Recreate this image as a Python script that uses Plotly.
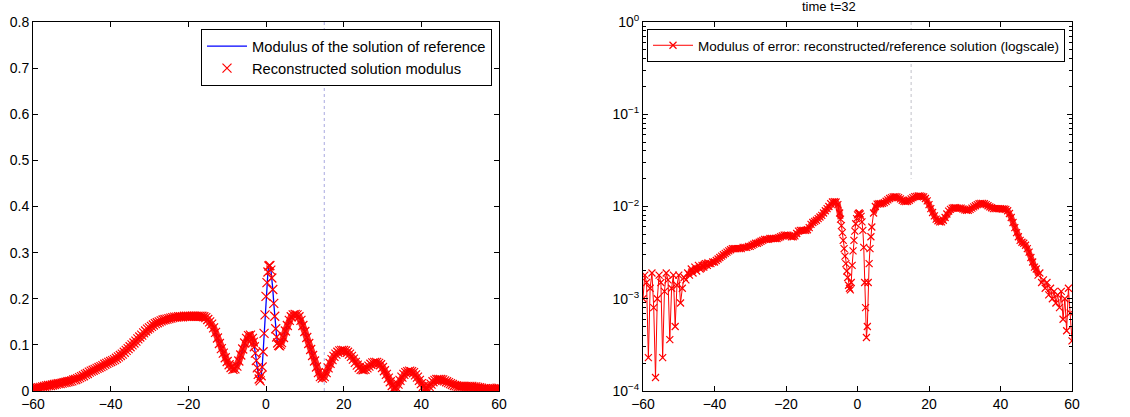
import numpy as np
import plotly.graph_objects as go

# ---------------- data ----------------
x_grid = np.linspace(-60, 60, 241)  # main spatial grid, step 0.5

# Modulus of the solution of reference (blue line) on x_grid
ref_mod = [
    .005, .006, .007, .007, .008, .009, .010, .011, .012, .012,
    .013, .014, .015, .016, .016, .017, .018, .019, .020, .021,
    .022, .024, .025, .027, .029, .031, .033, .036, .038, .041,
    .043, .045, .047, .049, .051, .053, .055, .058, .060, .062,
    .064, .066, .068, .071, .074, .077, .080, .084, .088, .092,
    .096, .100, .104, .108, .113, .117, .121, .126, .130, .134,
    .137, .140, .143, .146, .148, .150, .152, .154, .155, .156,
    .157, .158, .159, .160, .160, .161, .161, .161, .162, .162,
    .162, .162, .162, .162, .162, .162, .162, .162, .161, .159,
    .155, .150, .145, .137, .127, .115, .103, .092, .082, .072,
    .064, .057, .051, .047, .048, .054, .065, .078, .091, .104,
    .114, .120, .121, .114, .096, .066, .036, .020, .050, .122,
    .203, .258, .274, .247, .190, .135, .104, .098, .105, .116,
    .130, .142, .153, .161, .165, .166, .165, .161, .153, .142,
    .129, .116, .103, .090, .077, .065, .052, .040, .031, .028,
    .031, .040, .050, .060, .068, .075, .080, .084, .087, .088,
    .088, .087, .084, .080, .075, .069, .062, .056, .051, .047,
    .046, .047, .050, .054, .058, .062, .064, .066, .064, .058,
    .051, .044, .036, .028, .020, .012, .007, .008, .015, .023,
    .030, .036, .040, .042, .043, .042, .040, .035, .030, .023,
    .016, .010, .006, .006, .010, .015, .020, .023, .025, .025,
    .025, .024, .022, .020, .018, .016, .014, .012, .011, .010,
    .010, .010, .010, .010, .010, .010, .010, .009, .009, .008,
    .007, .006, .005, .005, .004, .004, .004, .005, .005, .006,
    .006,
]

# Reconstructed solution modulus (red crosses) on x_grid
rec_mod = [
    .005, .006, .007, .007, .008, .009, .010, .011, .012, .012,
    .013, .014, .015, .016, .016, .017, .018, .019, .020, .021,
    .022, .024, .025, .027, .029, .031, .033, .036, .038, .041,
    .043, .045, .047, .049, .051, .053, .055, .058, .060, .062,
    .064, .066, .068, .071, .074, .077, .080, .084, .088, .092,
    .096, .100, .104, .108, .113, .117, .121, .126, .130, .134,
    .137, .140, .143, .146, .148, .150, .152, .154, .155, .156,
    .157, .158, .159, .160, .160, .161, .161, .161, .162, .162,
    .162, .162, .162, .162, .162, .162, .162, .162, .161, .159,
    .155, .150, .145, .137, .127, .115, .103, .092, .082, .072,
    .064, .057, .051, .047, .048, .054, .065, .078, .091, .104,
    .114, .120, .121, .114, .096, .066, .036, .022, .052, .125,
    .205, .258, .272, .245, .190, .135, .104, .098, .105, .116,
    .130, .142, .153, .161, .165, .166, .165, .161, .153, .142,
    .129, .116, .103, .090, .077, .065, .052, .040, .031, .028,
    .031, .040, .050, .060, .068, .075, .080, .084, .087, .088,
    .088, .087, .084, .080, .075, .069, .062, .056, .051, .047,
    .046, .047, .050, .054, .058, .061, .062, .062, .060, .057,
    .051, .044, .036, .028, .020, .012, .007, .008, .015, .023,
    .030, .036, .040, .042, .043, .042, .040, .035, .030, .023,
    .016, .010, .006, .006, .010, .015, .020, .023, .025, .025,
    .025, .024, .022, .020, .018, .016, .014, .012, .011, .010,
    .010, .010, .010, .010, .010, .010, .010, .009, .009, .008,
    .007, .006, .005, .005, .004, .004, .004, .005, .005, .006,
    .006,
]

# extra samples in the oscillating centre (quarter points)
x_centre = [-3.25, -2.75, -2.25, -1.75, -1.25, -0.75, -0.25, 0.25,
            0.75, 1.25, 1.75, 2.25, 2.75, 3.25, 3.75]
ref_centre = [.106, .082, .050, .024, .031, .083, .163, .233,
              .273, .264, .221, .162, .117, .099, .101]
rec_centre = [.106, .082, .050, .026, .033, .085, .165, .235,
              .271, .262, .220, .162, .117, .099, .101]

# Modulus of error (log scale) on x_grid
err_mod = [
    1.0e-3, 1.8e-3, 1.5e-3, 2.3e-4, 1.3e-3, 1.9e-3, 8e-4, 1.4e-4, 1.0e-3, 1.8e-3,
    1.5e-3, 2.3e-4, 1.2e-3, 1.9e-3, 1.6e-3, 3.6e-4, 1.3e-3, 1.8e-3, 5.0e-4, 1.4e-3,
    1.8e-3, 9e-4, 1.3e-3, 1.7e-3, 1.6e-3, 1.9e-3, 1.8e-3, 2.1e-3, 1.9e-3, 2.2e-3,
    2.0e-3, 2.3e-3, 2.1e-3, 2.3e-3, 2.2e-3, 2.4e-3, 2.3e-3, 2.4e-3, 2.4e-3, 2.5e-3,
    2.5e-3, 2.6e-3, 2.7e-3, 2.8e-3, 2.9e-3, 3.0e-3, 3.1e-3, 3.2e-3, 3.3e-3, 3.4e-3,
    3.5e-3, 3.5e-3, 3.5e-3, 3.5e-3, 3.5e-3, 3.5e-3, 3.6e-3, 3.6e-3, 3.6e-3, 3.7e-3,
    3.7e-3, 3.8e-3, 3.9e-3, 4.0e-3, 4.0e-3, 4.1e-3, 4.2e-3, 4.3e-3, 4.4e-3, 4.4e-3,
    4.4e-3, 4.5e-3, 4.5e-3, 4.5e-3, 4.5e-3, 4.5e-3, 4.6e-3, 4.7e-3, 4.8e-3, 4.9e-3,
    4.9e-3, 4.9e-3, 4.8e-3, 4.7e-3, 4.7e-3, 4.8e-3, 5.1e-3, 5.4e-3, 5.5e-3, 5.5e-3,
    5.5e-3, 5.5e-3, 5.6e-3, 5.9e-3, 6.4e-3, 6.7e-3, 6.9e-3, 7.1e-3, 7.4e-3, 7.7e-3,
    8.0e-3, 8.5e-3, 9.0e-3, 9.5e-3, 1.0e-2, 1.07e-2, 1.12e-2, 1.13e-2, 1.12e-2, 1.05e-2,
    8.5e-3, 6.2e-3, 4.3e-3, 2.9e-3, 2.0e-3, 1.4e-3, 1.25e-3, 2.3e-3, 4.3e-3, 6.5e-3,
    8.1e-3, 8.5e-3, 7.8e-3, 5.5e-3, 1.5e-3, 3.8e-4, 1.5e-3, 3.5e-3, 6.0e-3, 8.5e-3,
    1.0e-2, 1.06e-2, 1.07e-2, 1.07e-2, 1.08e-2, 1.10e-2, 1.14e-2, 1.18e-2, 1.22e-2, 1.25e-2,
    1.27e-2, 1.28e-2, 1.27e-2, 1.25e-2, 1.21e-2, 1.17e-2, 1.14e-2, 1.13e-2, 1.14e-2, 1.17e-2,
    1.21e-2, 1.25e-2, 1.28e-2, 1.29e-2, 1.30e-2, 1.30e-2, 1.29e-2, 1.27e-2, 1.22e-2, 1.15e-2,
    1.05e-2, 9.5e-3, 8.6e-3, 7.9e-3, 7.3e-3, 7.0e-3, 6.8e-3, 6.8e-3, 7.1e-3, 7.6e-3,
    8.3e-3, 8.9e-3, 9.3e-3, 9.6e-3, 9.7e-3, 9.7e-3, 9.6e-3, 9.6e-3, 9.6e-3, 9.4e-3,
    9.2e-3, 9.1e-3, 9.1e-3, 9.3e-3, 9.6e-3, 9.9e-3, 1.02e-2, 1.05e-2, 1.07e-2, 1.08e-2,
    1.08e-2, 1.07e-2, 1.05e-2, 1.02e-2, 9.9e-3, 9.7e-3, 9.5e-3, 9.5e-3, 9.5e-3, 9.5e-3,
    9.5e-3, 9.4e-3, 9.4e-3, 9.3e-3, 9.0e-3, 8.4e-3, 7.6e-3, 6.7e-3, 5.9e-3, 5.2e-3,
    4.7e-3, 4.3e-3, 4.1e-3, 4.0e-3, 3.8e-3, 3.5e-3, 3.2e-3, 2.8e-3, 2.5e-3, 2.2e-3,
    2.1e-3, 1.8e-3, 1.9e-3, 1.5e-3, 1.6e-3, 1.3e-3, 1.5e-3, 1.1e-3, 1.3e-3, 1.0e-3,
    1.2e-3, 9e-4, 1.1e-3, 8e-4, 1.2e-3, 6e-4, 1.0e-3, 4.5e-4, 1.3e-3, 7e-4,
    3.5e-4,
]

# extra error samples around the two central dips (quarter points)
x_err_centre = [-4.75, -4.25, -3.75, -3.25, -2.75, -2.25, -1.75, -1.25, -0.75,
                -0.25, 0.25, 0.75, 1.25, 1.75, 2.25, 2.75, 3.25, 3.75]
err_centre = [7.3e-3, 5.2e-3, 3.5e-3, 2.4e-3, 1.7e-3, 1.3e-3, 1.5e-3, 3.3e-3, 5.4e-3,
              7.4e-3, 8.4e-3, 8.3e-3, 6.8e-3, 3.6e-3, 8e-4, 5e-4, 2.4e-3, 4.7e-3]

# dotted probe line (position of the vertical marker)
probe_x = 15.0
probe_left_y = [0.0, 0.8]
probe_right_y = [1.0, 0.02]

x_ticks = [-60, -40, -20, 0, 20, 40, 60]
y_ticks_left = [0, 0.1, 0.2, 0.3, 0.4, 0.5, 0.6, 0.7, 0.8]
y_ticks_right = [1e-4, 1e-3, 1e-2, 1e-1, 1e0]
y_tick_text_right = ["10<sup>\u22124</sup>", "10<sup>\u22123</sup>", "10<sup>\u22122</sup>",
                     "10<sup>\u22121</sup>", "10<sup>0</sup>"]
title_right = "time t=32"

assert len(ref_mod) == len(x_grid) == len(rec_mod) == len(err_mod)
assert len(x_centre) == len(ref_centre) == len(rec_centre)
assert len(x_err_centre) == len(err_centre)

# ---------------- style constants ----------------
W, H = 1130, 417
FONT = "Liberation Sans, Arial, Helvetica, sans-serif"
# x-intervals where the dense marker band is thinned out (markers only)
left_band_gap = (-3.0, 3.6)
right_band_span = (-47.5, 50.5)
right_band_gap = (-4.6, 4.1)


def merge(xa, ya, xb, yb):
    xs = np.concatenate([np.asarray(xa, float), np.asarray(xb, float)])
    ys = np.concatenate([np.asarray(ya, float), np.asarray(yb, float)])
    order = np.argsort(xs, kind="stable")
    return xs[order], ys[order]


x_l, ref_l = merge(x_grid, ref_mod, x_centre, ref_centre)
_, rec_l = merge(x_grid, rec_mod, x_centre, rec_centre)
x_r, err_r = merge(x_grid, err_mod, x_err_centre, err_centre)

left_band = np.where((x_l > left_band_gap[0]) & (x_l < left_band_gap[1]), np.nan, rec_l)
right_mask = (x_r >= right_band_span[0]) & (x_r <= right_band_span[1]) & \
             ~((x_r > right_band_gap[0]) & (x_r < right_band_gap[1]))
right_band = np.where(right_mask, err_r, np.nan)


def dom_x(a, b):
    return [a / W, b / W]


def dom_y(top, bottom):
    return [1 - bottom / H, 1 - top / H]


fig = go.Figure()

fig.add_trace(go.Scatter(x=[probe_x, probe_x], y=probe_left_y, mode="lines",
                         line=dict(color="#a8a8e0", width=1, dash="dot"),
                         showlegend=False, hoverinfo="skip", xaxis="x", yaxis="y"))
fig.add_trace(go.Scatter(x=x_l, y=ref_l, mode="lines",
                         line=dict(color="blue", width=1.3),
                         name="Modulus of the solution of reference",
                         legend="legend", xaxis="x", yaxis="y"))
fig.add_trace(go.Scatter(x=x_l, y=left_band, mode="lines",
                         line=dict(color="rgba(255,0,0,0.85)", width=7),
                         showlegend=False, hoverinfo="skip", xaxis="x", yaxis="y"))
fig.add_trace(go.Scatter(x=x_l, y=rec_l, mode="markers",
                         marker=dict(symbol="x-thin", size=9, color="red",
                                     line=dict(color="red", width=1.2)),
                         name="Reconstructed solution modulus",
                         legend="legend", xaxis="x", yaxis="y"))

fig.add_trace(go.Scatter(x=[probe_x, probe_x], y=probe_right_y, mode="lines",
                         line=dict(color="#c0c0c8", width=1, dash="dot"),
                         showlegend=False, hoverinfo="skip", xaxis="x2", yaxis="y2"))
fig.add_trace(go.Scatter(x=x_r, y=right_band, mode="lines",
                         line=dict(color="rgba(255,0,0,0.85)", width=6),
                         showlegend=False, hoverinfo="skip", xaxis="x2", yaxis="y2"))
fig.add_trace(go.Scatter(x=x_r, y=err_r, mode="lines+markers",
                         line=dict(color="red", width=1),
                         marker=dict(symbol="x-thin", size=7, color="red",
                                     line=dict(color="red", width=1.2)),
                         name="Modulus of error: reconstructed/reference solution (logscale)",
                         legend="legend2", xaxis="x2", yaxis="y2"))

axis_common = dict(showline=True, linecolor="black", linewidth=1, mirror="ticks",
                   ticks="inside", ticklen=5, tickcolor="black", showgrid=False,
                   zeroline=False, automargin=False,
                   tickfont=dict(family=FONT, size=14, color="black"))

fig.update_layout(
    width=W, height=H,
    margin=dict(l=0, r=0, t=0, b=0, autoexpand=False),
    paper_bgcolor="white", plot_bgcolor="white",
    font=dict(family=FONT, size=14, color="black"),
    xaxis=dict(domain=dom_x(33, 499), range=[-60, 60], tickvals=x_ticks, anchor="y",
               **axis_common),
    yaxis=dict(domain=dom_y(22, 391), range=[0, 0.8], tickvals=y_ticks_left, anchor="x",
               **axis_common),
    xaxis2=dict(domain=dom_x(643, 1072), range=[-60, 60], tickvals=x_ticks, anchor="y2",
                **axis_common),
    yaxis2=dict(domain=dom_y(22, 391), type="log", range=[-4, 0], anchor="x2",
                tickvals=y_ticks_right, ticktext=y_tick_text_right,
                minor=dict(ticks="inside", ticklen=3, tickcolor="black",
                           tickvals=[m * 10.0 ** e for e in range(-4, 0) for m in range(2, 10)]),
                **axis_common),
    legend=dict(x=492 / W, y=1 - 29 / H, xanchor="right", yanchor="top",
                bgcolor="white", bordercolor="black", borderwidth=1,
                font=dict(family=FONT, size=14.7, color="black"),
                tracegroupgap=0, itemwidth=40),
    legend2=dict(x=1065 / W, y=1 - 29 / H, xanchor="right", yanchor="top",
                 bgcolor="white", bordercolor="black", borderwidth=1,
                 font=dict(family=FONT, size=13.5, color="black"), itemwidth=40),
    annotations=[dict(text=title_right, x=(643 + 1072) / 2 / W, y=1 - 6 / H,
                      xref="paper", yref="paper", showarrow=False, yanchor="middle",
                      font=dict(family=FONT, size=13, color="black"))],
)

fig.write_html("out.html", config={"displayModeBar": False},
               post_script="document.body.style.margin='0';"
                           "document.body.style.overflow='hidden';")
